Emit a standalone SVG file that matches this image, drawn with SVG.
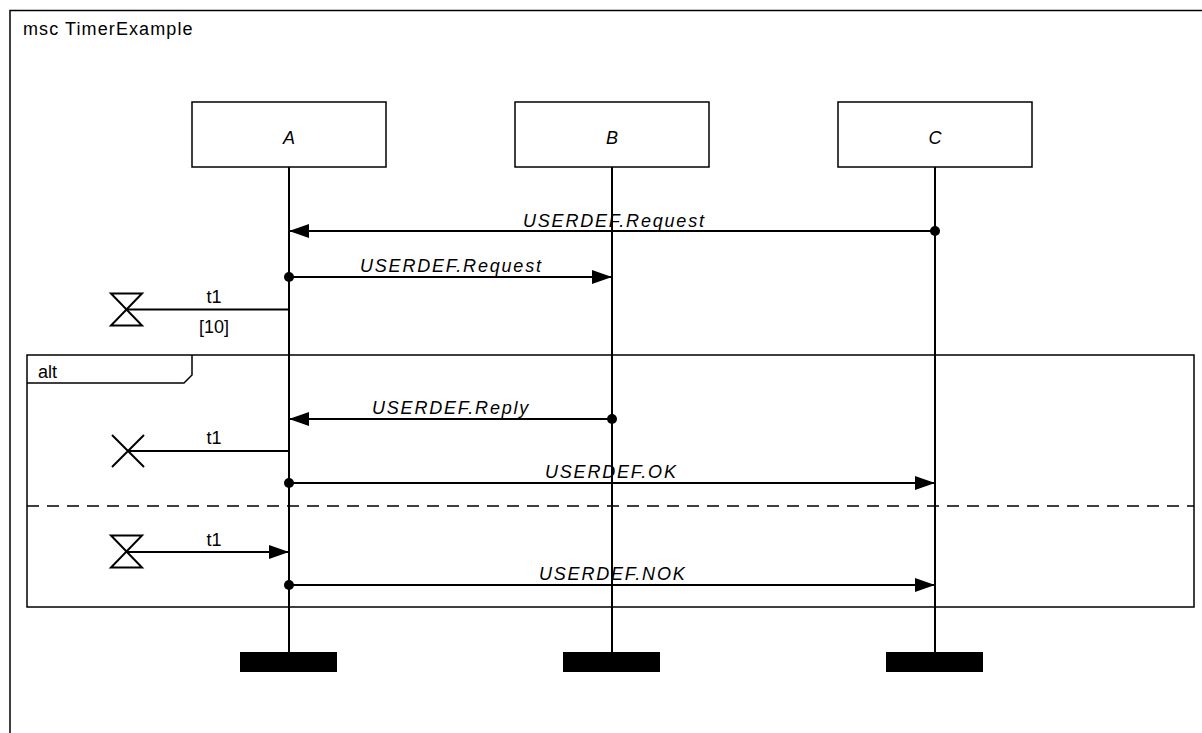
<svg xmlns="http://www.w3.org/2000/svg" width="1202" height="733" viewBox="0 0 1202 733">
<defs>
<style>
text{font-family:"Liberation Sans",Arial,sans-serif;font-size:18px;fill:#000}
.it{font-style:italic;letter-spacing:1.8px}
.nm{font-style:italic}
.box{fill:#fff;stroke:#000;stroke-width:1.5}
.ll{stroke:#000;stroke-width:2}
.msg{stroke:#000;stroke-width:2;fill:none}
.frame{fill:none;stroke:#000;stroke-width:1.5}
.dot{fill:#000}
</style>
<marker id="ah" viewBox="0 0 20 14" refX="20" refY="7" markerWidth="20" markerHeight="14" markerUnits="userSpaceOnUse" orient="auto">
<path d="M0,0 L20,7 L0,14 Z" fill="#000"/>
</marker>
</defs>
<rect width="1202" height="733" fill="#fff"/>
<g id="frame">
<path class="frame" d="M10,745 V10.5 H1210"/>
<text x="23" y="35" style="letter-spacing:1.1px">msc TimerExample</text>
</g>
<g id="alt">
<rect class="frame" x="27" y="355" width="1167" height="252"/>
<path class="frame" d="M192,355 V375 L184,383 H27"/>
<text x="38" y="378">alt</text>
<line x1="27" y1="506" x2="1194" y2="506" stroke="#000" stroke-width="1.5" stroke-dasharray="12,8"/>
</g>
<g id="A">
<rect class="box" x="192" y="102" width="194" height="65"/>
<text class="nm" x="289" y="144" text-anchor="middle">A</text>
<line class="ll" x1="289" y1="167" x2="289" y2="652"/>
<rect x="240" y="652" width="97" height="20" fill="#000"/>
</g>
<g id="B">
<rect class="box" x="515" y="102" width="194" height="65"/>
<text class="nm" x="612" y="144" text-anchor="middle">B</text>
<line class="ll" x1="612" y1="167" x2="612" y2="652"/>
<rect x="563" y="652" width="97" height="20" fill="#000"/>
</g>
<g id="C">
<rect class="box" x="838" y="102" width="194" height="65"/>
<text class="nm" x="935" y="144" text-anchor="middle">C</text>
<line class="ll" x1="935" y1="167" x2="935" y2="652"/>
<rect x="886" y="652" width="97" height="20" fill="#000"/>
</g>
<g id="connectors">
<line class="msg" x1="935" y1="231" x2="289" y2="231" marker-end="url(#ah)"/>
<circle class="dot" cx="935" cy="231" r="5"/>
<text class="it" x="523" y="227">USERDEF.Request</text>
<line class="msg" x1="289" y1="277" x2="612" y2="277" marker-end="url(#ah)"/>
<circle class="dot" cx="289" cy="277" r="5"/>
<text class="it" x="360" y="272">USERDEF.Request</text>
<line class="msg" x1="612" y1="419" x2="289" y2="419" marker-end="url(#ah)"/>
<circle class="dot" cx="612" cy="419" r="5"/>
<text class="it" x="372" y="414">USERDEF.Reply</text>
<line class="msg" x1="289" y1="483" x2="935" y2="483" marker-end="url(#ah)"/>
<circle class="dot" cx="289" cy="483" r="5"/>
<text class="it" x="545" y="478">USERDEF.OK</text>
<line class="msg" x1="289" y1="585" x2="935" y2="585" marker-end="url(#ah)"/>
<circle class="dot" cx="289" cy="585" r="5"/>
<text class="it" x="539" y="580">USERDEF.NOK</text>
</g>
<g id="timer-set">
<path class="msg" d="M111,293.5 H142 L111,325.5 H142 Z" stroke-width="1.5"/>
<line class="msg" x1="127" y1="309.5" x2="289" y2="309.5"/>
<text x="214" y="303" text-anchor="middle">t1</text>
<text x="214" y="333" text-anchor="middle">[10]</text>
</g>
<g id="timer-reset">
<path class="msg" d="M112,435 L144,467 M144,435 L112,467" stroke-width="1.5"/>
<line class="msg" x1="128" y1="451" x2="289" y2="451"/>
<text x="214" y="444" text-anchor="middle">t1</text>
</g>
<g id="timer-timeout">
<path class="msg" d="M111,535.5 H142 L111,567.5 H142 Z" stroke-width="1.5"/>
<line class="msg" x1="127" y1="552" x2="289" y2="552" marker-end="url(#ah)"/>
<text x="214" y="546" text-anchor="middle">t1</text>
</g>
</svg>
